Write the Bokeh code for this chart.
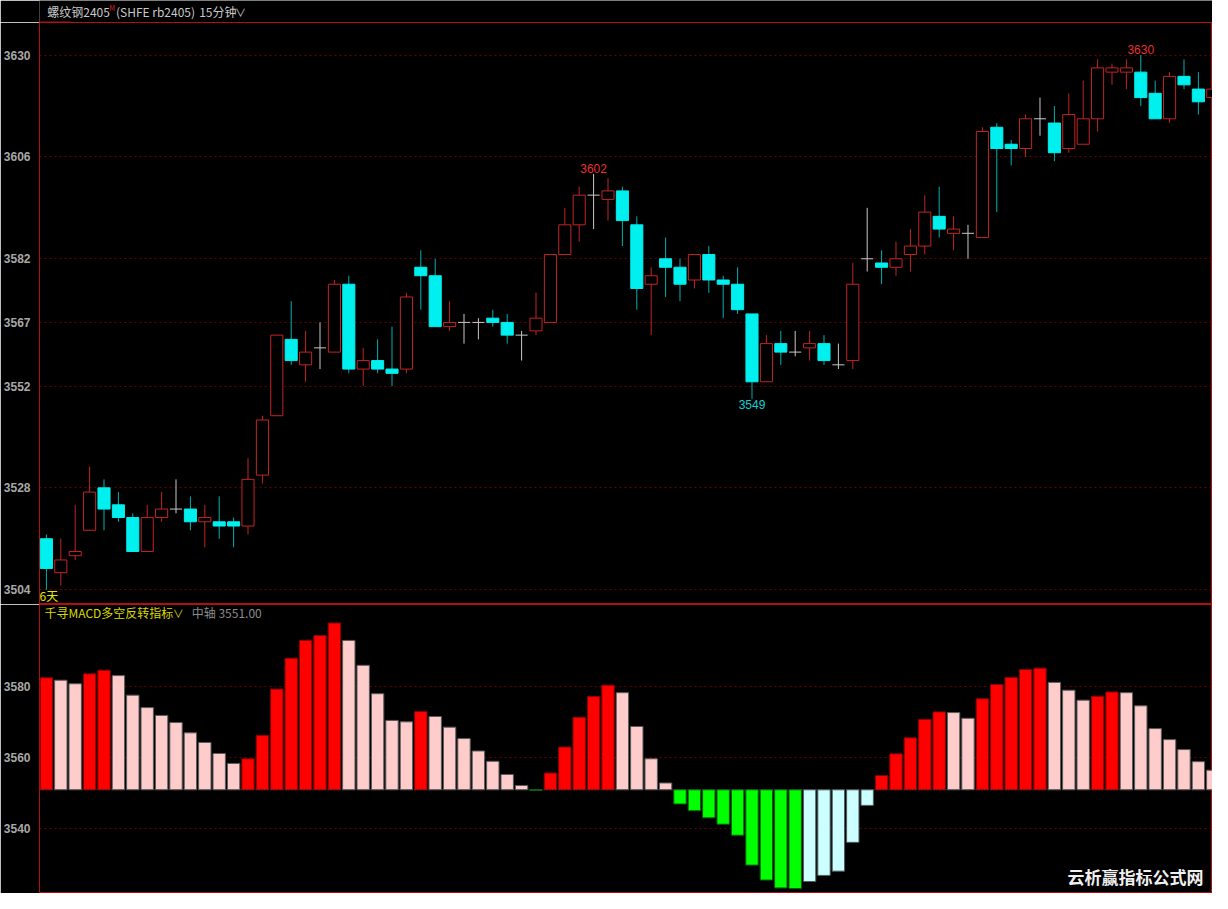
from bokeh.plotting import figure
from bokeh.layouts import column
from bokeh.models import ColumnDataSource, FixedTicker, Span, Range1d
from bokeh.embed import file_html
from bokeh.resources import INLINE
from bokeh.core.properties import value

# ---------------- data ----------------
opens = [3516, 3508, 3512, 3518, 3528, 3524, 3521, 3513, 3521, 3523,
         3523, 3520, 3520, 3520, 3519, 3531, 3545, 3563, 3557, 3561,
         3560, 3576, 3556, 3558, 3556, 3556, 3580, 3578, 3566, 3567,
         3567, 3568, 3567, 3564, 3565, 3567, 3583, 3590, 3597, 3596,
         3598, 3590, 3576, 3582, 3580, 3577, 3583, 3577, 3576, 3569,
         3553, 3562, 3560, 3561, 3562, 3557, 3558, 3582, 3581, 3580,
         3583, 3585, 3592, 3588, 3588, 3587, 3613, 3609, 3608, 3615,
         3614, 3608, 3609, 3615, 3626, 3626, 3626, 3621, 3615, 3625,
         3622, 3620]
highs = [3517, 3516, 3524, 3533, 3530, 3527, 3522, 3524, 3527, 3530,
         3526, 3524, 3526, 3521, 3535, 3545, 3564, 3572, 3565, 3567,
         3577, 3578, 3561, 3563, 3566, 3574, 3584, 3582, 3572, 3569,
         3568, 3570, 3569, 3565, 3574, 3583, 3594, 3599, 3602, 3601,
         3599, 3592, 3580, 3587, 3582, 3583, 3585, 3578, 3580, 3569,
         3564, 3565, 3565, 3565, 3564, 3562, 3581, 3594, 3584, 3586,
         3589, 3597, 3599, 3592, 3590, 3613, 3614, 3610, 3616, 3620,
         3618, 3621, 3624, 3629, 3628, 3629, 3630, 3624, 3626, 3629,
         3626, 3625]
lows = [3504, 3505, 3511, 3518, 3518, 3520, 3513, 3513, 3520, 3522,
        3518, 3514, 3516, 3514, 3517, 3529, 3545, 3557, 3553, 3556,
        3560, 3555, 3552, 3555, 3552, 3555, 3570, 3566, 3565, 3562,
        3563, 3566, 3562, 3558, 3564, 3567, 3583, 3586, 3589, 3591,
        3585, 3570, 3564, 3573, 3572, 3575, 3574, 3568, 3569, 3549,
        3553, 3557, 3559, 3558, 3557, 3556, 3556, 3579, 3576, 3578,
        3579, 3583, 3587, 3584, 3582, 3587, 3593, 3604, 3606, 3611,
        3605, 3607, 3609, 3612, 3623, 3622, 3618, 3615, 3614, 3622,
        3616, 3614]
closes = [3509, 3511, 3513, 3527, 3523, 3521, 3513, 3521, 3523, 3523,
          3520, 3521, 3519, 3519, 3530, 3544, 3564, 3558, 3560, 3561,
          3576, 3556, 3558, 3556, 3555, 3573, 3578, 3566, 3567, 3567,
          3567, 3567, 3564, 3564, 3568, 3583, 3590, 3597, 3597, 3598,
          3591, 3575, 3578, 3580, 3576, 3583, 3577, 3576, 3570, 3553,
          3562, 3560, 3560, 3562, 3558, 3557, 3576, 3582, 3580, 3582,
          3585, 3593, 3589, 3589, 3588, 3612, 3608, 3608, 3615, 3615,
          3607, 3616, 3615, 3627, 3627, 3627, 3620, 3615, 3625, 3623,
          3619, 3622]
macd = [3582.5, 3581.8, 3580.8, 3583.6, 3584.6, 3583.1, 3577.6, 3574.1, 3571.9, 3569.9,
        3567.0, 3564.3, 3561.2, 3558.4, 3559.7, 3566.3, 3579.3, 3588.0, 3593.0, 3594.4,
        3597.9, 3593.0, 3586.0, 3578.0, 3570.5, 3570.1, 3573.0, 3571.6, 3568.6, 3565.4,
        3561.9, 3559.0, 3555.3, 3552.2, 3550.8, 3555.7, 3563.0, 3571.4, 3577.2, 3580.4,
        3578.3, 3568.8, 3559.7, 3552.9, 3547.0, 3545.1, 3543.1, 3541.3, 3538.2, 3529.8,
        3525.6, 3523.4, 3523.2, 3525.2, 3526.9, 3528.1, 3536.2, 3546.6, 3555.0, 3561.1,
        3565.6, 3570.8, 3572.9, 3572.7, 3571.1, 3576.6, 3580.6, 3582.6, 3584.8, 3585.2,
        3581.2, 3579.0, 3576.2, 3577.3, 3578.5, 3578.3, 3574.6, 3568.2, 3565.1, 3562.3,
        3558.9, 3556.5]
macd_axis = 3551.0
price_ticks = [3504, 3528, 3552, 3567, 3582, 3606, 3630]
macd_ticks = [3540, 3560, 3580]
high_marks = [38, 76]
low_marks = [49]

# ---------------- layout ----------------
W = 1212
LB = 33
TB = 22
H1 = 582
H2 = 289
X0, X1 = -0.48, 80.98
Y1B, Y1T = 3500.5, 3637.7
Y2B, Y2T = 3522.1, 3603.1

FW = W - LB


def dx(px):
    return X0 + (px - LB) * (X1 - X0) / FW


def dy2(py):
    return Y2T - py * (Y2T - Y2B) / (H2 - 1)


BG = "#000000"
FRAME = "#b01010"
GRID = "#6a0000"
UP = "#c42424"
DOWN = "#00f0f0"
DOWN_WICK = "#00b0b0"
FLAT = "#c8c8c8"
TICK_TXT = "#a8a8a8"
TITLE_TXT = "#c8c8c8"
CJK = "Noto Sans CJK SC"

xr = Range1d(X0, X1)

# ---------------- title bar ----------------
p0 = figure(width=W, height=TB, x_range=Range1d(0, W), y_range=Range1d(TB, 0),
            output_backend="svg", toolbar_location=None, x_axis_location=None,
            y_axis_location=None, min_border=0)
p0.background_fill_color = BG
p0.border_fill_color = BG
p0.outline_line_color = None
p0.grid.visible = False
p0.segment(x0=[0], y0=[TB - 0.5], x1=[LB], y1=[TB - 0.5], line_color=FRAME, line_width=1)
title_parts = [
    (8, 11, "螺纹钢2405", TITLE_TXT, "12px"),
    (72, 7, "M", "#e02020", "7px"),
    (79, 11, "(SHFE rb2405)", TITLE_TXT, "12px"),
    (165, 11, "15分钟", TITLE_TXT, "12px"),
    (202, 11, "∨", TITLE_TXT, "11px"),
]
for px, py, t, col, fs in title_parts:
    p0.text(x=[px], y=[py], text=[t], text_color=col, text_font_size=fs,
            text_font=value(CJK), text_baseline="middle", text_align="left")


def style(p, ticks):
    p.background_fill_color = BG
    p.border_fill_color = BG
    p.outline_line_color = FRAME
    p.outline_line_width = 1
    p.xgrid.visible = False
    p.yaxis.ticker = FixedTicker(ticks=ticks)
    p.ygrid.ticker = FixedTicker(ticks=ticks)
    p.ygrid.grid_line_color = GRID
    p.ygrid.grid_line_dash = "2 3"
    p.yaxis.axis_line_color = None
    p.yaxis.major_tick_line_color = None
    p.yaxis.minor_tick_line_color = None
    p.yaxis.major_label_text_color = TICK_TXT
    p.yaxis.major_label_text_font = "Liberation Sans"
    p.yaxis.major_label_text_font_style = "bold"
    p.yaxis.major_label_text_font_size = "12px"
    p.yaxis.major_label_standoff = 3


# ---------------- price panel ----------------
p1 = figure(width=W, height=H1, x_range=xr, y_range=Range1d(Y1B, Y1T),
            output_backend="svg", toolbar_location=None, x_axis_location=None,
            min_border_left=LB, min_border_right=0, min_border_top=0,
            min_border_bottom=0)
style(p1, price_ticks)

n = len(opens)
idx = list(range(n))
kind = ["up" if c > o else ("down" if c < o else "flat") for o, c in zip(opens, closes)]
wick_col = [UP if k == "up" else (DOWN_WICK if k == "down" else FLAT) for k in kind]

src = ColumnDataSource(dict(x=idx, o=opens, h=highs, l=lows, c=closes, wc=wick_col))
p1.segment(x0="x", y0="h", x1="x", y1="l", line_color="wc", line_width=1, source=src)

up_i = [i for i in idx if kind[i] == "up"]
dn_i = [i for i in idx if kind[i] == "down"]
fl_i = [i for i in idx if kind[i] == "flat"]
BW = 0.84
p1.vbar(x=up_i, width=BW, bottom=[opens[i] for i in up_i], top=[closes[i] for i in up_i],
        fill_color=BG, line_color=UP, line_width=1)
p1.vbar(x=dn_i, width=BW, bottom=[closes[i] for i in dn_i], top=[opens[i] for i in dn_i],
        fill_color=DOWN, line_color=DOWN, line_width=1)
p1.segment(x0=[i - BW / 2 for i in fl_i], y0=[opens[i] for i in fl_i],
           x1=[i + BW / 2 for i in fl_i], y1=[opens[i] for i in fl_i],
           line_color=FLAT, line_width=1)

p1.text(x=high_marks, y=[highs[i] for i in high_marks], text=[str(highs[i]) for i in high_marks],
        text_color="#e83030", text_align="center", text_baseline="bottom",
        text_font=value("Liberation Sans"), text_font_size="12px", y_offset=-1)
p1.text(x=low_marks, y=[lows[i] for i in low_marks], text=[str(lows[i]) for i in low_marks],
        text_color="#10d0d0", text_align="center", text_baseline="top",
        text_font=value("Liberation Sans"), text_font_size="12px", y_offset=1)

p1.text(x=[X0], y=[Y1B], text=["6天"], text_color="#e6e600", text_align="left",
        text_baseline="bottom", text_font=value(CJK), text_font_size="12px",
        x_offset=0, y_offset=-1)

# ---------------- MACD panel ----------------
p2 = figure(width=W, height=H2, x_range=xr, y_range=Range1d(Y2B, Y2T),
            output_backend="svg", toolbar_location=None, x_axis_location=None,
            min_border_left=LB, min_border_right=0, min_border_top=0,
            min_border_bottom=1)
style(p2, macd_ticks)

fills, lines = [], []
for i, v in enumerate(macd):
    prev = macd[i - 1] if i > 0 else None
    if v >= macd_axis:
        if prev is None or v > prev:
            fills.append("#ff0000"); lines.append("#8a0000")
        else:
            fills.append("#ffcccc"); lines.append("#5a5a5a")
    else:
        if prev is None or v < prev:
            fills.append("#00ff00"); lines.append("#006400")
        else:
            fills.append("#ccffff"); lines.append("#4a5a5a")

msrc = ColumnDataSource(dict(x=idx, top=macd, bottom=[macd_axis] * n, f=fills, lc=lines))
p2.vbar(x="x", width=0.86, top="top", bottom="bottom", fill_color="f", line_color="lc",
        line_width=1, source=msrc)
p2.add_layout(Span(location=macd_axis, dimension="width", line_color="#585858",
                   line_dash="1 2", line_width=1))

hy = dy2(8)
p2.text(x=[dx(38)], y=[hy], text=["千寻MACD多空反转指标"], text_color="#d8d800",
        text_baseline="middle", text_font=value(CJK), text_font_size="12px")
p2.text(x=[dx(167)], y=[hy], text=["∨"], text_color="#d8d800",
        text_baseline="middle", text_font=value(CJK), text_font_size="11px")
p2.text(x=[dx(186)], y=[hy], text=["中轴 %.2f" % macd_axis], text_color="#8c8c8c",
        text_baseline="middle", text_font=value(CJK), text_font_size="12px")

p2.text(x=[dx(1203)], y=[dy2(272)], text=["云析赢指标公式网"], text_color="#f0f0f0",
        text_align="right", text_baseline="middle", text_font=value(CJK),
        text_font_size="17px", text_font_style="bold")

layout = column(p0, p1, p2, spacing=0)
open("out.html", "w").write(file_html(layout, INLINE))
